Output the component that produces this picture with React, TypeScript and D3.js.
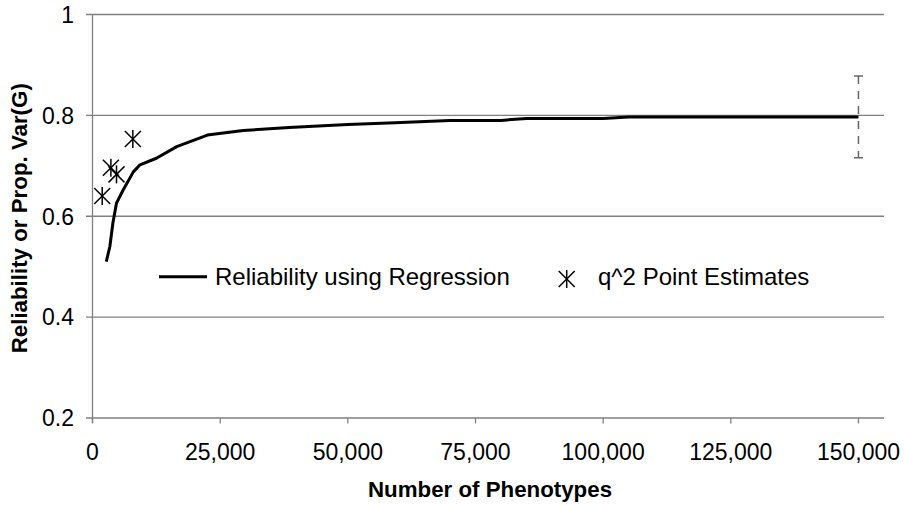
import React from "react";
import * as d3 from "d3";

// Regression-based reliability curve (number of phenotypes vs reliability)
const curveX = [2700, 3400, 4000, 4700, 6000, 8000, 9300, 12500, 16500, 22500, 29500, 38500, 50000, 58000, 70000, 80000, 85000, 100000, 105000, 150000];
const curveY = [0.51, 0.54, 0.587, 0.626, 0.652, 0.688, 0.702, 0.715, 0.738, 0.761, 0.77, 0.776, 0.782, 0.785, 0.79, 0.79, 0.794, 0.794, 0.797, 0.797];

// q^2 point estimates
const pointX = [1900, 3600, 4700, 7900];
const pointY = [0.64, 0.696, 0.683, 0.753];

// Error bar at the last curve point
const errX = 150000;
const errCenter = 0.797;
const errHalf = 0.081;

const xTicks = [0, 25000, 50000, 75000, 100000, 125000, 150000];
const yTicks = [0.2, 0.4, 0.6, 0.8, 1];

const xTitle = "Number of Phenotypes";
const yTitle = "Reliability or Prop. Var(G)";
const legendLine = "Reliability using Regression";
const legendPoints = "q^2 Point Estimates";

const W = 905;
const H = 505;
const left = 92.5;
const right = 884;
const top = 14.5;
const bottom = 418;

const FONT = "'Liberation Sans', Arial, sans-serif";

function Star({ cx, cy }: { cx: number; cy: number }) {
  const r = 9;
  const d = 8;
  return (
    <g stroke="#000" strokeWidth={1.5}>
      <line x1={cx} y1={cy - r} x2={cx} y2={cy + r} />
      <line x1={cx - d} y1={cy - d} x2={cx + d} y2={cy + d} />
      <line x1={cx - d} y1={cy + d} x2={cx + d} y2={cy - d} />
    </g>
  );
}

export default function App() {
  const x = d3.scaleLinear().domain([0, 155000]).range([left, right]);
  const y = d3.scaleLinear().domain([0.2, 1]).range([bottom, top]);
  const fmtX = d3.format(",");
  const fmtY = d3.format("~g");

  const line = d3
    .line<number>()
    .x((_, i) => x(curveX[i]))
    .y((v) => y(v));

  const ex = x(errX);
  const eTop = y(errCenter + errHalf);
  const eBot = y(errCenter - errHalf);

  return (
    <svg
      width={W}
      height={H}
      style={{ position: "absolute", left: 0, top: 0, background: "#fff", display: "block" }}
      fontFamily={FONT}
    >
      {/* horizontal gridlines and y ticks */}
      {yTicks.map((t) => (
        <g key={t}>
          <line x1={left - 6.5} x2={right} y1={y(t)} y2={y(t)} stroke="#808080" strokeWidth={1.3} />
          <text x={74} y={y(t)} dy="0.36em" textAnchor="end" fontSize={23} fill="#000">
            {fmtY(t)}
          </text>
        </g>
      ))}
      {/* y axis */}
      <line x1={left} x2={left} y1={top} y2={bottom + 5} stroke="#808080" strokeWidth={1.3} />
      {/* x ticks */}
      {xTicks.map((t) => (
        <g key={t}>
          <line x1={x(t)} x2={x(t)} y1={bottom} y2={bottom + 5.5} stroke="#808080" strokeWidth={1.3} />
          <text x={x(t)} y={460} textAnchor="middle" fontSize={23} fill="#000">
            {fmtX(t)}
          </text>
        </g>
      ))}

      {/* error bar */}
      <g stroke="#666" strokeWidth={1.5}>
        <line x1={ex} x2={ex} y1={eTop} y2={eBot} strokeDasharray="8,7" />
        <line x1={ex - 4.5} x2={ex + 4.5} y1={eTop} y2={eTop} />
        <line x1={ex - 4.5} x2={ex + 4.5} y1={eBot} y2={eBot} />
      </g>

      {/* reliability curve */}
      <path d={line(curveY) || ""} fill="none" stroke="#000" strokeWidth={3} strokeLinejoin="round" />

      {/* point estimates */}
      {pointX.map((px, i) => (
        <Star key={i} cx={x(px)} cy={y(pointY[i])} />
      ))}

      {/* legend */}
      <line x1={159} x2={207} y1={276.7} y2={276.7} stroke="#000" strokeWidth={3} />
      <text x={215} y={285} fontSize={24} fill="#000">
        {legendLine}
      </text>
      <Star cx={566.7} cy={279} />
      <text x={598} y={285} fontSize={24} fill="#000">
        {legendPoints}
      </text>

      {/* axis titles */}
      <text x={490} y={497} textAnchor="middle" fontSize={22.3} fontWeight="bold" fill="#000">
        {xTitle}
      </text>
      <text
        transform={`translate(27, ${(top + bottom) / 2 + 2}) rotate(-90)`}
        textAnchor="middle"
        fontSize={22.3}
        fontWeight="bold"
        fill="#000"
      >
        {yTitle}
      </text>
    </svg>
  );
}
